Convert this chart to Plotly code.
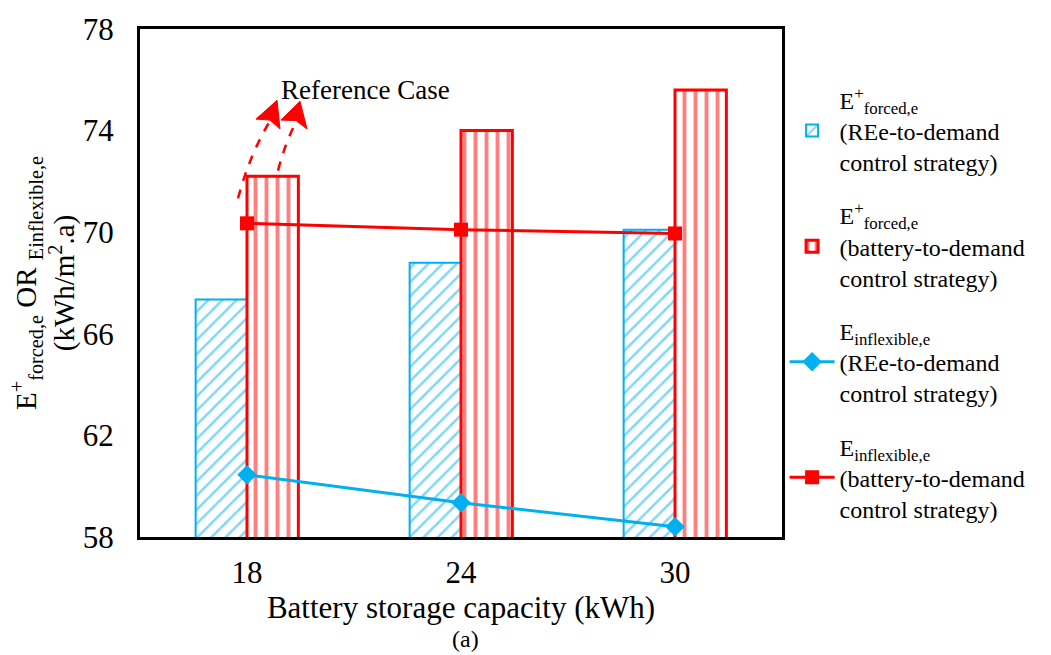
import plotly.graph_objects as go

capacity = ["18", "24", "30"]
forced_ree = [67.35, 68.8, 70.1]
forced_batt = [72.2, 74.0, 75.6]
inflex_ree = [60.45, 59.35, 58.4]
inflex_batt = [70.35, 70.1, 69.95]
y_ticks = [58, 62, 66, 70, 74, 78]

BLUE = "#00B0F0"
RED = "#FF0000"
FONT = "Liberation Serif, Times New Roman, serif"

fig = go.Figure()
fig.add_trace(go.Bar(
    x=capacity, y=forced_ree,
    name="E<sup>+</sup><sub>forced,e</sub><br>(REe-to-demand<br>control strategy)",
    marker=dict(color="white", line=dict(color=BLUE, width=2),
                pattern=dict(shape="/", fgcolor=BLUE, bgcolor="white", size=10, solidity=0.25)),
    legendgroup="a",
))
fig.add_trace(go.Bar(
    x=capacity, y=forced_batt,
    name="E<sup>+</sup><sub>forced,e</sub><br>(battery-to-demand<br>control strategy)",
    marker=dict(color="white", line=dict(color=RED, width=3),
                pattern=dict(shape="|", fgcolor=RED, bgcolor="white", size=11, solidity=0.35)),
    legendgroup="b",
))
fig.add_trace(go.Scatter(
    x=capacity, y=inflex_ree, mode="lines+markers",
    name="E<sub>inflexible,e</sub><br>(REe-to-demand<br>control strategy)",
    line=dict(color=BLUE, width=3),
    marker=dict(symbol="diamond", size=15, color=BLUE),
    legendgroup="c",
))
fig.add_trace(go.Scatter(
    x=capacity, y=inflex_batt, mode="lines+markers",
    name="E<sub>inflexible,e</sub><br>(battery-to-demand<br>control strategy)",
    line=dict(color=RED, width=3),
    marker=dict(symbol="square", size=14, color=RED),
    legendgroup="d",
))

# plot box in pixels (for annotation helpers)
L, R, T, B = 140, 782, 24, 537
def px(xp):
    return (xp - L) / (R - L)
def py(yp):
    return (B - yp) / (B - T)

shapes = []
# dashed curved arrows
for (x0, y0, cx, cy, x1, y1) in [(238, 195, 250, 150, 270, 117), (278, 167, 285, 140, 295, 120)]:
    shapes.append(dict(type="path", xref="paper", yref="paper",
                       path=f"M {px(x0)},{py(y0)} Q {px(cx)},{py(cy)} {px(x1)},{py(y1)}",
                       line=dict(color=RED, width=2.5, dash="dash")))
for (tx, ty, lx, ly, rx, ry) in [(277, 96, 256, 115, 280, 125), (300, 97, 281, 116, 307, 125)]:
    shapes.append(dict(type="path", xref="paper", yref="paper",
                       path=f"M {px(tx)},{py(ty)} L {px(lx)},{py(ly)} L {px((lx+rx)/2+2)},{py((ly+ry)/2-4)} L {px(rx)},{py(ry)} Z",
                       fillcolor=RED, line=dict(color=RED, width=1)))

fig.update_layout(
    width=1051, height=655,
    margin=dict(l=L, r=1051 - R, t=T, b=655 - B),
    paper_bgcolor="white", plot_bgcolor="white",
    font=dict(family=FONT, color="black", size=24),
    barmode="group", bargap=0.52, bargroupgap=0,
    shapes=shapes,
    legend=dict(x=1.004, y=0.905, xanchor="left", yanchor="top",
                font=dict(family=FONT, size=24, color="black"),
                tracegroupgap=19, itemwidth=45, bgcolor="rgba(0,0,0,0)"),
    annotations=[
        dict(text="Reference Case", xref="paper", yref="paper", x=px(279), y=py(86),
             xanchor="left", yanchor="middle", showarrow=False,
             font=dict(family=FONT, size=27, color="black")),
        dict(text="(a)", xref="paper", yref="paper", x=px(465), y=py(640),
             xanchor="center", yanchor="middle", showarrow=False,
             font=dict(family=FONT, size=24, color="black")),
    ],
)
fig.update_xaxes(
    type="category", range=[-0.5, 2.5],
    showline=True, linecolor="black", linewidth=3, mirror=True,
    ticks="outside", ticklen=6, tickcolor="rgba(0,0,0,0)",
    tickfont=dict(family=FONT, size=31),
    title=dict(text="Battery storage capacity (kWh)", font=dict(family=FONT, size=31), standoff=0),
    showgrid=False,
)
fig.update_yaxes(
    range=[58, 78], tickvals=y_ticks,
    showline=True, linecolor="black", linewidth=3, mirror=True,
    ticks="outside", ticklen=17, tickcolor="rgba(0,0,0,0)",
    tickfont=dict(family=FONT, size=31),
    title=dict(text="E<sup>+</sup><sub>forced,e</sub> OR <sub>Einflexible,e</sub><br>(kWh/m<sup>2</sup>.a)",
               font=dict(family=FONT, size=29), standoff=0),
    showgrid=False, zeroline=False,
)

fig.write_html("out.html")
